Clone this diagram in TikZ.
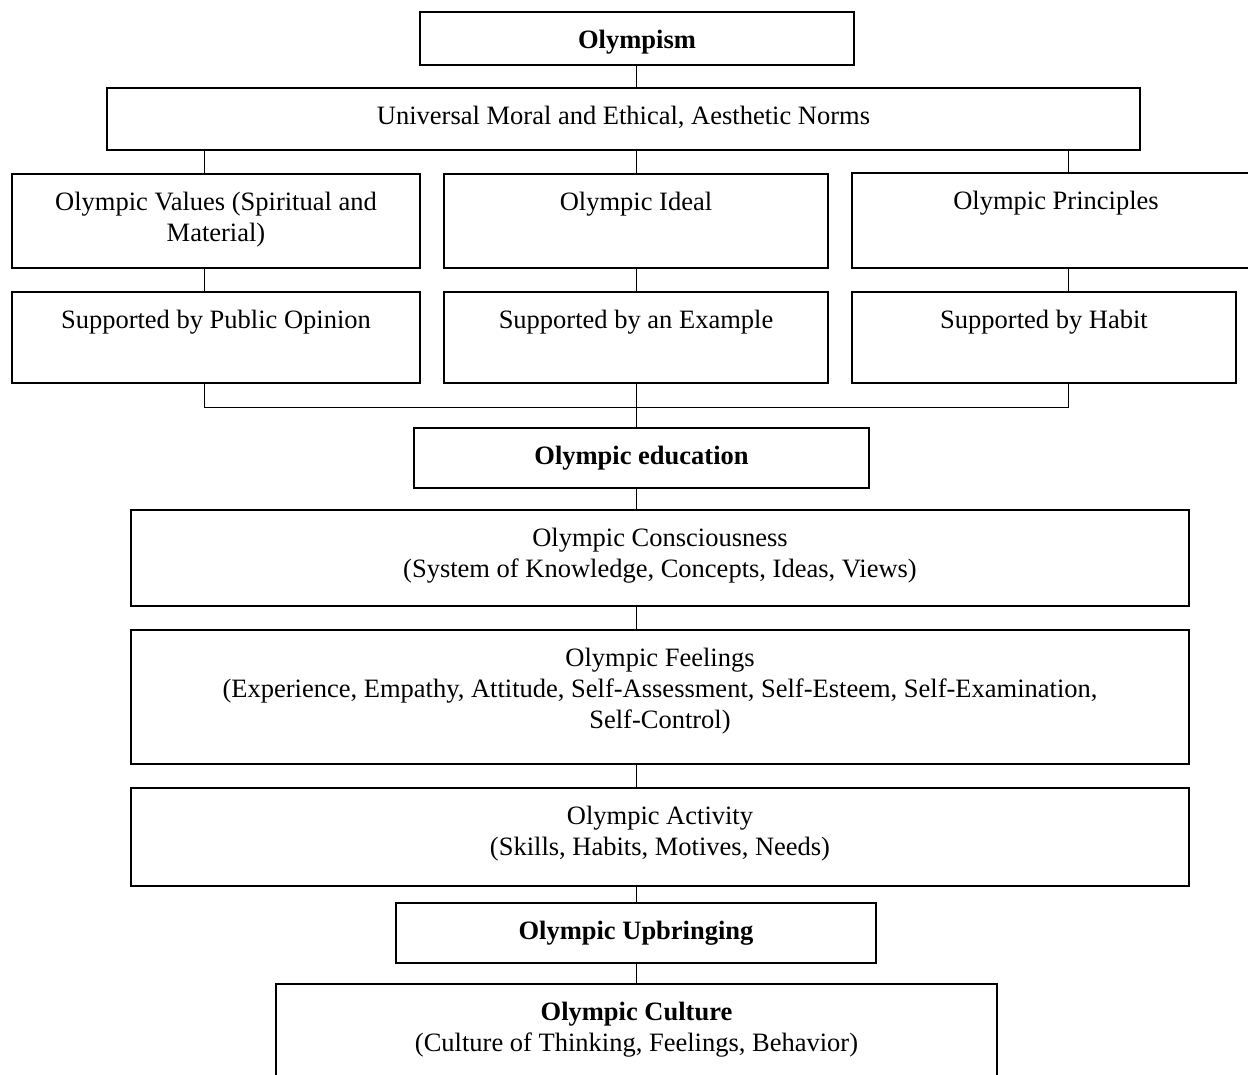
\documentclass[tikz,border=0pt]{standalone}
\usepackage{fontspec}
\setmainfont{Liberation Serif}
\begin{document}
\begin{tikzpicture}[x=1pt,y=-1pt,
  box/.style={draw, line width=1.6pt, inner sep=0pt},
  txt/.style={inner sep=0pt, align=center, anchor=north, yshift=-18.5pt,
    font=\fontsize{26.5}{31}\selectfont},
  conn/.style={line width=0.9pt}]
\useasboundingbox (0,0) rectangle (1248,1075);
\clip (0,0) rectangle (1248,1075);
% boxes
\node[box, minimum width=434pt, minimum height=53pt] (olympism) at (637,38.5) {};
\node[box, minimum width=1033pt, minimum height=62pt] (universal) at (623.5,119) {};
\node[box, minimum width=408pt, minimum height=94pt] (values) at (216,221) {};
\node[box, minimum width=384pt, minimum height=94pt] (ideal) at (636,221) {};
\node[box, minimum width=408pt, minimum height=95pt] (principles) at (1056,220.5) {};
\node[box, minimum width=408pt, minimum height=91pt] (publicop) at (216,337.5) {};
\node[box, minimum width=384pt, minimum height=91pt] (example) at (636,337.5) {};
\node[box, minimum width=384pt, minimum height=91pt] (habit) at (1044,337.5) {};
\node[box, minimum width=455pt, minimum height=60pt] (education) at (641.5,458) {};
\node[box, minimum width=1058pt, minimum height=96pt] (conscious) at (660,558) {};
\node[box, minimum width=1058pt, minimum height=134pt] (feelings) at (660,697) {};
\node[box, minimum width=1058pt, minimum height=98pt] (activity) at (660,837) {};
\node[box, minimum width=480pt, minimum height=60pt] (upbringing) at (636,933) {};
\node[box, minimum width=721pt, minimum height=106pt] (culture) at (636.5,1037) {};
% texts
\node[txt] (olympismT) at (olympism.north) {\textbf{Olympism}};
\node[txt] (universalT) at (universal.north) {Universal Moral and Ethical, Aesthetic Norms};
\node[txt] (valuesT) at (values.north) {Olympic Values (Spiritual and\\Material)};
\node[txt] (idealT) at (ideal.north) {Olympic Ideal};
\node[txt] (principlesT) at (principles.north) {Olympic Principles};
\node[txt] (publicopT) at (publicop.north) {Supported by Public Opinion};
\node[txt] (exampleT) at (example.north) {Supported by an Example};
\node[txt] (habitT) at (habit.north) {Supported by Habit};
\node[txt] (educationT) at (education.north) {\textbf{Olympic education}};
\node[txt] (consciousT) at (conscious.north) {Olympic Consciousness\\(System of Knowledge, Concepts, Ideas, Views)};
\node[txt] (feelingsT) at (feelings.north) {Olympic Feelings\\(Experience, Empathy, Attitude, Self-Assessment, Self-Esteem, Self-Examination,\\Self-Control)};
\node[txt] (activityT) at (activity.north) {Olympic Activity\\(Skills, Habits, Motives, Needs)};
\node[txt] (upbringingT) at (upbringing.north) {\textbf{Olympic Upbringing}};
\node[txt] (cultureT) at (culture.north) {\textbf{Olympic Culture}\\(Culture of Thinking, Feelings, Behavior)};
% connector x positions
\coordinate (xL) at (204,0);
\coordinate (xM) at (636.5,0);
\coordinate (xR) at (1068,0);
\coordinate (bracketL) at (204,407);
\coordinate (bracketR) at (1068,407);
% connectors
\draw[conn] (olympism.south -| xM) -- (universal.north -| xM);
\draw[conn] (universal.south -| xL) -- (values.north -| xL);
\draw[conn] (universal.south -| xM) -- (ideal.north -| xM);
\draw[conn] (universal.south -| xR) -- (principles.north -| xR);
\draw[conn] (values.south -| xL) -- (publicop.north -| xL);
\draw[conn] (ideal.south -| xM) -- (example.north -| xM);
\draw[conn] (principles.south -| xR) -- (habit.north -| xR);
\draw[conn] (publicop.south -| xL) -- (bracketL) -- (bracketR) -- (habit.south -| xR);
\draw[conn] (example.south -| xM) -- (education.north -| xM);
\draw[conn] (education.south -| xM) -- (conscious.north -| xM);
\draw[conn] (conscious.south -| xM) -- (feelings.north -| xM);
\draw[conn] (feelings.south -| xM) -- (activity.north -| xM);
\draw[conn] (activity.south -| xM) -- (upbringing.north -| xM);
\draw[conn] (upbringing.south -| xM) -- (culture.north -| xM);
\end{tikzpicture}
\end{document}
